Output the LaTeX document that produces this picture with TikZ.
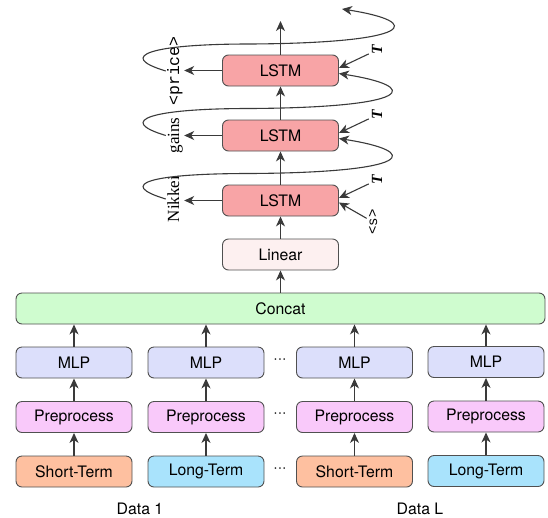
\documentclass[tikz,border=0pt]{standalone}
\usepackage{fontspec}
\setmainfont{TeX Gyre Heros}
\newfontfamily\serifl{Liberation Serif}
\newfontfamily\tbi{Liberation Serif}[UprightFont={* Bold Italic}]
\newfontfamily\monol{Liberation Mono}
\usetikzlibrary{arrows.meta}
\definecolor{bordc}{HTML}{505050}
\definecolor{arrc}{HTML}{3A3A3A}
\definecolor{lstmc}{HTML}{F8A4A6}
\definecolor{linc}{HTML}{FDF0F0}
\definecolor{catc}{HTML}{CFFCCF}
\definecolor{mlpc}{HTML}{DCDFFB}
\definecolor{prec}{HTML}{F9C9FA}
\definecolor{shortc}{HTML}{FEC0A0}
\definecolor{longc}{HTML}{A9E3FC}
\begin{document}
\begin{tikzpicture}[x=1pt,y=-1pt,
  box/.style={draw=bordc, line width=0.9pt, rounded corners=6pt, minimum width=116pt, minimum height=31pt, inner sep=0pt, font=\fontsize{15.8}{18}\selectfont},
  arr/.style={draw=arrc, line width=1.1pt, -{Stealth[length=10pt,width=9pt,inset=3pt]}},
  lab/.style={rotate=90, inner sep=1pt, text height=12pt, text depth=4pt},
  serlab/.style={lab, font=\serifl\fontsize{17}{20}\selectfont},
  monlab/.style={lab, font=\monol\fontsize{16.5}{20}\selectfont},
  tlab/.style={rotate=90, inner sep=3pt, font=\tbi\fontsize{15.5}{18}\selectfont},
  plain/.style={font=\fontsize{15.8}{18}\selectfont}
]
\useasboundingbox (0,0) rectangle (548,517);

% LSTM stack
\node[box, fill=lstmc] (lstm1) at (280.5,70.5) {LSTM};
\node[box, fill=lstmc] (lstm2) at (280.5,135.5) {LSTM};
\node[box, fill=lstmc] (lstm3) at (280.5,200.5) {LSTM};
\node[box, fill=linc] (linear) at (280.5,254.5) {Linear};
\node[box, fill=catc, minimum width=529pt] (concat) at (280.5,308.5) {Concat};

% columns
\node[box, fill=mlpc] (mlp1) at (74,362.5) {MLP};
\node[box, fill=mlpc] (mlp2) at (206,362.5) {MLP};
\node[box, fill=mlpc] (mlp3) at (354.5,362.5) {MLP};
\node[box, fill=mlpc] (mlp4) at (486,362) {MLP};
\node[box, fill=prec] (pre1) at (74,417) {Preprocess};
\node[box, fill=prec] (pre2) at (206,417) {Preprocess};
\node[box, fill=prec] (pre3) at (354.5,417) {Preprocess};
\node[box, fill=prec] (pre4) at (486,416.5) {Preprocess};
\node[box, fill=shortc] (in1) at (74,471.5) {Short-Term};
\node[box, fill=longc] (in2) at (206,471.5) {Long-Term};
\node[box, fill=shortc] (in3) at (354.5,471.5) {Short-Term};
\node[box, fill=longc] (in4) at (486,471) {Long-Term};

\node[plain] (dots1) at (280,361) {···};
\node[plain] (dots2) at (280,415.5) {···};
\node[plain] (dots3) at (280,470) {···};

\node[plain] (data1) at (140,509) {Data 1};
\node[plain] (dataL) at (420,509) {Data L};

% labels
\node[monlab] (price) at (175,71) {<price>};
\node[serlab] (gains) at (175,135.5) {gains};
\node[serlab] (nikkei) at (175,199) {Nikkei};
\node[tlab] (t1) at (377,50) {T};
\node[tlab] (t2) at (377,115) {T};
\node[tlab] (t3) at (377,180) {T};
\node[rotate=90, inner sep=2pt, font=\monol\fontsize{14}{16}\selectfont] (sos) at (373,222) {<s>};

\coordinate (topout) at (280.5,21);
\coordinate (loopend) at (342,9);

% vertical flow
\draw[arr] (lstm1) -- (topout);
\draw[arr] (lstm2) -- (lstm1);
\draw[arr] (lstm3) -- (lstm2);
\draw[arr] (linear) -- (lstm3);
\draw[arr] (concat) -- (linear);
\foreach \i in {1,2,3,4}{
  \draw[arr] (mlp\i) -- (mlp\i |- concat.south);
  \draw[arr] (pre\i) -- (mlp\i);
  \draw[arr] (in\i) -- (pre\i);
}

% outputs
\draw[arr] (lstm1.west) -- (lstm1.west -| price.south);
\draw[arr] (lstm2.west) -- (lstm2.west -| gains.south);
\draw[arr] (lstm3.west) -- (lstm3.west -| nikkei.south);

% side inputs
\draw[arr] (t1) -- ([yshift=2.5pt]lstm1.east);
\draw[arr] (t2) -- ([yshift=2.5pt]lstm2.east);
\draw[arr] (t3) -- ([yshift=2.5pt]lstm3.east);
\draw[arr] (sos) -- ([yshift=-2pt]lstm3.east);

% feedback loops
\draw[arr] (price.north) .. controls +(-50,-15) and +(-100,0) .. (250,44) .. controls +(165,-1) and +(83,13) .. (loopend);
\draw[arr] (gains.north) .. controls +(-50,-15) and +(-100,0) .. (250,108.5) .. controls +(165,-1) and +(83,13) .. ([yshift=-3pt]lstm1.east);
\draw[arr] (nikkei.north) .. controls +(-50,-15) and +(-100,0) .. (250,173.5) .. controls +(165,-1) and +(83,13) .. ([yshift=-3pt]lstm2.east);
\end{tikzpicture}
\end{document}
